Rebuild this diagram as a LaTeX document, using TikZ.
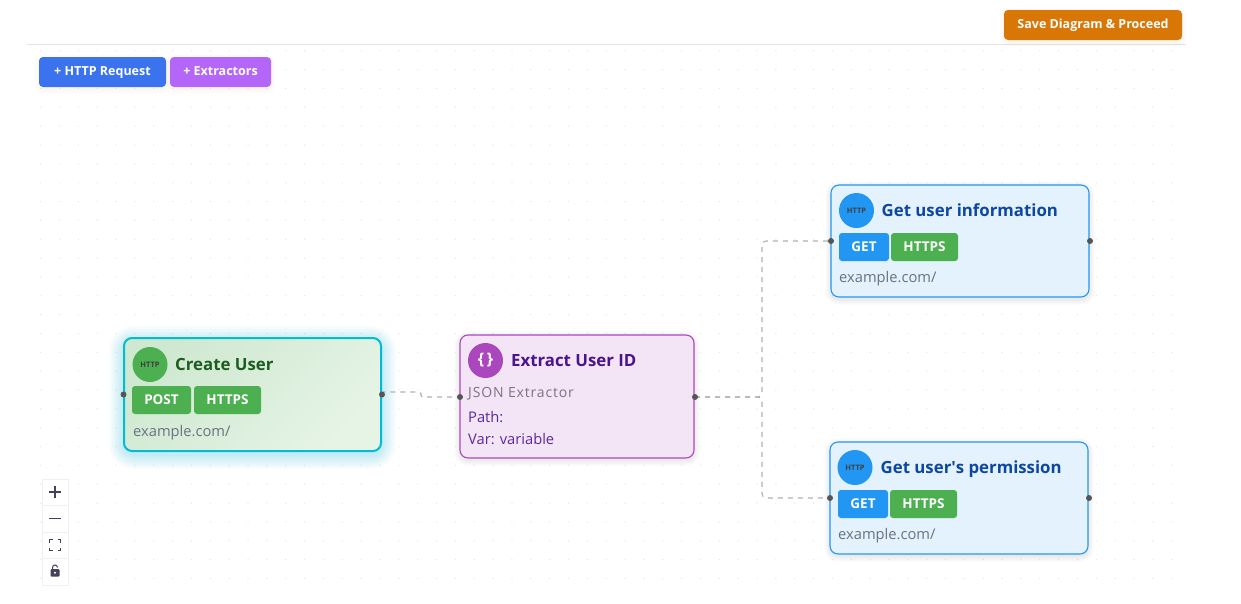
\documentclass[tikz,border=0pt]{standalone}
\usepackage{fontspec}
\setmainfont{Open Sans}
\newfontfamily\spacedfont[LetterSpace=6]{Open Sans}
\usetikzlibrary{backgrounds,positioning}
\definecolor{ruleline}{HTML}{E2E2E2}
\definecolor{griddot}{HTML}{E6E6E6}
\definecolor{edgeline}{HTML}{B1B1B7}
\definecolor{handlefill}{HTML}{555555}
\definecolor{saveorange}{HTML}{D97706}
\definecolor{addblue}{HTML}{3B72EE}
\definecolor{addpurple}{HTML}{B366F8}
\definecolor{glowcyan}{HTML}{00BCD4}
\definecolor{softgreen}{HTML}{4CAF50}
\definecolor{softblue}{HTML}{2196F3}
\definecolor{softpurple}{HTML}{AB47BC}
\definecolor{palegreena}{HTML}{CFE8D0}
\definecolor{palegreenb}{HTML}{E6F4E6}
\definecolor{paleblue}{HTML}{E3F2FD}
\definecolor{palepurple}{HTML}{F3E5F5}
\definecolor{greentitle}{HTML}{1B5E20}
\definecolor{bluetitle}{HTML}{0D47A1}
\definecolor{purpletitle}{HTML}{4A148C}
\definecolor{purpletext}{HTML}{5A2A9C}
\definecolor{kindgrey}{HTML}{7E7088}
\definecolor{urlgrey}{HTML}{6B7280}
\definecolor{panelicon}{HTML}{45415A}
\begin{document}
\begin{tikzpicture}[x=1pt,y=-1pt]
\tikzstyle{toolbtn}=[anchor=north west,rounded corners=4pt,text=white,inner sep=0pt,outer sep=0pt,font=\bfseries\fontsize{12.5}{14}\selectfont,text height=9.5pt,text depth=3pt,minimum height=30pt]
\tikzstyle{box}=[anchor=north west,rounded corners=8pt,inner sep=0pt,outer sep=0pt]
\tikzstyle{bluebox}=[box,draw=softblue,line width=1.1pt,fill=paleblue,minimum width=258pt,minimum height=112pt]
\tikzstyle{icon}=[circle,inner sep=0pt,minimum size=35pt,text=black!75,font=\bfseries\fontsize{7.5}{8}\selectfont]
\tikzstyle{badge}=[rounded corners=3pt,inner sep=0pt,outer sep=0pt,text=white,minimum height=28pt,font=\bfseries\fontsize{13.5}{15}\selectfont]
\tikzstyle{greenbadge}=[badge,fill=softgreen,minimum width=67pt]
\tikzstyle{bluebadge}=[badge,fill=softblue,minimum width=50pt]
\tikzstyle{boxtitle}=[anchor=base west,inner sep=0pt,font=\bfseries\fontsize{16.8}{18}\selectfont]
\tikzstyle{boxtext}=[anchor=base west,inner sep=0pt,font=\fontsize{14.7}{17}\selectfont]
\tikzstyle{handle}=[circle,fill=handlefill,inner sep=0pt,minimum size=6pt]
\tikzstyle{edge}=[draw=edgeline,line width=1.1pt,dash pattern=on 5pt off 5pt,rounded corners=4pt]
\tikzstyle{zoomcell}=[draw=black!6,fill=white,inner sep=0pt,outer sep=0pt,minimum width=26pt,minimum height=26.5pt]
\useasboundingbox (0,0) rectangle (1241,603);

\node[toolbtn,fill=saveorange,minimum width=178pt] (savebtn) at (1004,10) {Save Diagram \& Proceed};
\node[toolbtn,fill=addblue,minimum width=127pt] (httpbtn) at (39,57) {+ HTTP Request};
\node[toolbtn,fill=addpurple,minimum width=101pt] (extractbtn) at (170,57) {+ Extractors};

\node[box,draw=glowcyan,line width=2pt,top color=palegreena,bottom color=palegreenb,shading angle=45,minimum width=257pt,minimum height=113pt] (createbox) at (124,338) {};
\node[icon,fill=softgreen] (createicon) at (150,364.5) {HTTP};
\node[boxtitle,text=greentitle] (createtitle) at (175,370) {Create User};
\node[badge,fill=softgreen,minimum width=59pt] (createmethod) at (161.5,400) {POST};
\node[greenbadge,right=3pt of createmethod] (createproto) {HTTPS};
\node[boxtext,text=urlgrey] (createurl) at (133,436) {example.com/};

\node[box,draw=softpurple,line width=1.1pt,fill=palepurple,minimum width=234pt,minimum height=123pt] (extractbox) at (460,335) {};
\node[icon,fill=softpurple,text=white,font=\bfseries\fontsize{16}{18}\selectfont] (extracticon) at (485.5,360.5) {\{\,\}};
\node[boxtitle,text=purpletitle] (extracttitle) at (511,366) {Extract User ID};
\node[boxtext,text=kindgrey,font=\spacedfont\fontsize{14}{16}\selectfont] (extractkind) at (468,397) {JSON Extractor};
\node[boxtext,text=purpletext] (extractpath) at (468,422) {Path:};
\node[boxtext,text=purpletext] (extractvar) at (468,444) {Var: variable};

\node[bluebox] (infobox) at (831,185) {};
\node[icon,fill=softblue] (infoicon) at (856.5,210.5) {HTTP};
\node[boxtitle,text=bluetitle] (infotitle) at (881.5,216) {Get user information};
\node[bluebadge] (infomethod) at (864,247) {GET};
\node[greenbadge,right=2pt of infomethod] (infoproto) {HTTPS};
\node[boxtext,text=urlgrey] (infourl) at (839,282) {example.com/};

\node[bluebox] (permbox) at (830,442) {};
\node[icon,fill=softblue] (permicon) at (855,467.5) {HTTP};
\node[boxtitle,text=bluetitle] (permtitle) at (880.5,473) {Get user\textquotesingle s permission};
\node[bluebadge] (permmethod) at (863,504) {GET};
\node[greenbadge,right=2pt of permmethod] (permproto) {HTTPS};
\node[boxtext,text=urlgrey] (permurl) at (838,539) {example.com/};

\node[handle] (createin) at (123.5,394.5) {};
\node[handle] (createout) at (382,394.5) {};
\node[handle] (extractin) at (460,397) {};
\node[handle] (extractout) at (695,397) {};
\node[handle] (infoin) at (831,241) {};
\node[handle] (infoout) at (1090,241) {};
\node[handle] (permin) at (830,498) {};
\node[handle] (permout) at (1089,498) {};

\coordinate (stepa) at (421,392);
\coordinate (stepb) at (421,397);
\coordinate (forkx) at (762,397);
\begin{scope}[on background layer]
\fill[white] (0,0) rectangle (1241,603);
\foreach \x in {40.7,59.55,...,1175} \foreach \y in {50.7,69.55,...,597}
  \fill[griddot] (\x,\y) circle (0.7pt);
\draw[ruleline,line width=1pt] (27,44.5) -- (1186,44.5);
\foreach \g in {3,6,...,30}
  \draw[glowcyan,line width=\g pt,draw opacity=.024,rounded corners=10pt] ([yshift=-3pt]createbox.south west) rectangle ([yshift=-3pt]createbox.north east);
\foreach \b in {extractbox,infobox,permbox}
  \foreach \g in {2,5,...,11}
    \draw[black,line width=\g pt,draw opacity=.018,rounded corners=8pt] ([yshift=-2pt]\b.south west) rectangle ([yshift=-2pt]\b.north east);
\foreach \b in {savebtn,httpbtn,extractbtn}
  \foreach \g in {2,5,...,8}
    \draw[saveorange,line width=\g pt,draw opacity=.018,rounded corners=4pt] ([yshift=-2pt]\b.south west) rectangle ([yshift=-2pt]\b.north east);
\draw[edge,rounded corners=1.5pt] (createout.center) |- (stepa) -- (stepb) -- (extractin.center);
\draw[edge] (extractout.center) -- (forkx) |- (infoin.center);
\draw[edge] (extractout.center) -- (forkx) |- (permin.center);
\end{scope}

\node[zoomcell] (zoomin) at (55,492) {};
\node[zoomcell,below=0pt of zoomin] (zoomout) {};
\node[zoomcell,below=0pt of zoomout] (zoomfit) {};
\node[zoomcell,below=0pt of zoomfit] (zoomlock) {};
\draw[panelicon,line width=1.2pt] ([xshift=-6pt]zoomin.center) -- ([xshift=6pt]zoomin.center) ([yshift=-6pt]zoomin.center) -- ([yshift=6pt]zoomin.center);
\draw[panelicon,line width=1.1pt] ([xshift=-6pt]zoomout.center) -- ([xshift=6pt]zoomout.center);
\begin{scope}[shift={(zoomfit.center)}]
\draw[panelicon,line width=1.1pt] (-5.5,-2.5) |- (-2.5,-5.5) (2.5,-5.5) -| (5.5,-2.5) (5.5,2.5) |- (2.5,5.5) (-2.5,5.5) -| (-5.5,2.5);
\end{scope}
\begin{scope}[shift={(zoomlock.center)}]
\fill[panelicon,rounded corners=1pt] (-4.5,-2.5) rectangle (4.5,5);
\draw[panelicon,line width=1pt] (-2.5,-2.5) -- (-2.5,-4) arc (180:360:2.5);
\fill[white] (0,1.2) circle (1.1pt);
\end{scope}
\end{tikzpicture}
\end{document}
